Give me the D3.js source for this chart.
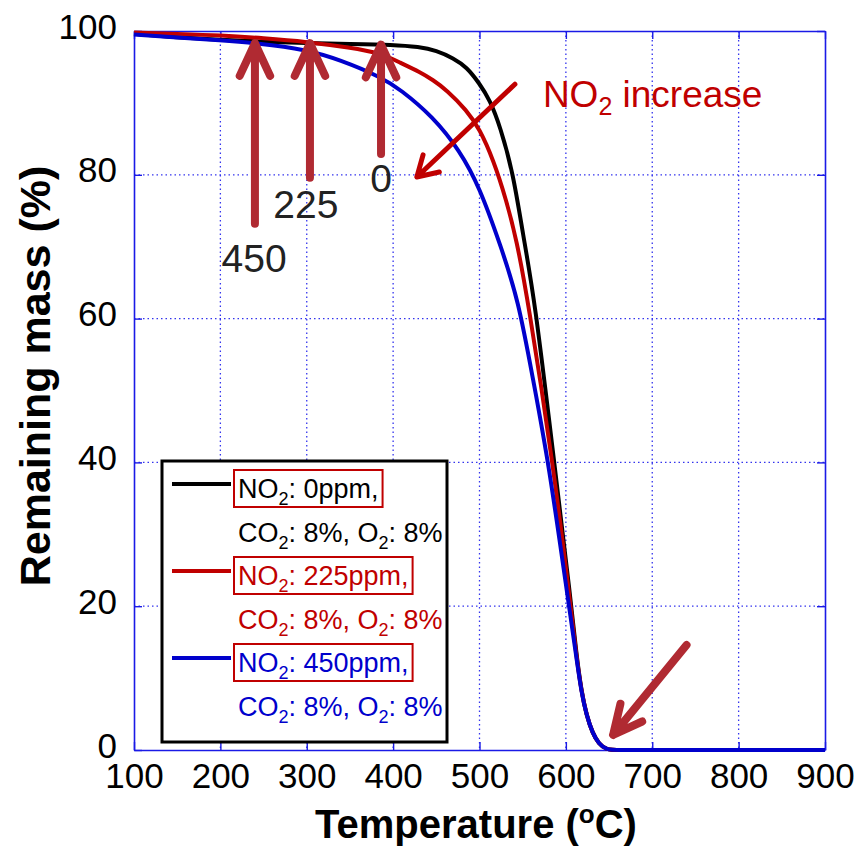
<!DOCTYPE html>
<html>
<head>
<meta charset="utf-8">
<script src="https://cdn.jsdelivr.net/npm/d3@7"></script>
<style>
  body { margin: 0; background: #fff; }
  text { font-family: Arial, "Liberation Sans", sans-serif; }
</style>
</head>
<body>
<div id="chart"></div>
<script>
// values (temperature in C, remaining mass in %)
const tempBlack = [100, 150, 200, 250, 300, 350, 400, 430, 450, 470, 485, 500, 512, 524, 539, 550, 564, 585, 606, 612, 618, 624, 631, 638, 647, 660, 700, 800, 900];
const massBlack = [99.6, 99.1, 98.8, 98.5, 98.3, 98.2, 98.1, 97.8, 97.3, 96.2, 95.0, 92.7, 90.4, 86.7, 80.2, 71.9, 62.6, 41.5, 20.5, 13.5, 8.2, 4.8, 2.3, 0.9, 0, 0, 0, 0, 0];

const tempRed = [100, 150, 200, 250, 300, 350, 386, 408, 431, 446, 462, 485, 500, 516, 531, 543, 556, 585, 605, 612, 618, 624, 631, 638, 647, 660, 700, 800, 900];
const massRed = [99.8, 99.6, 99.4, 99.0, 98.5, 97.7, 96.9, 95.6, 94.3, 93.2, 91.8, 89.0, 86.4, 82.1, 76.5, 70.9, 62.6, 40, 20.5, 13.2, 8.1, 4.8, 2.3, 0.9, 0, 0, 0, 0, 0];

const tempBlue = [100, 150, 200, 242, 300, 338, 386, 408, 446, 477, 500, 524, 545, 562, 580, 603, 612, 618, 624, 631, 638, 647, 660, 700, 800, 900];
const massBlue = [99.5, 99.1, 98.7, 98.3, 97.4, 96.0, 93.6, 91.9, 88.1, 83.4, 78.3, 70.3, 62.6, 51.5, 40, 20.5, 13.0, 8.0, 4.8, 2.3, 0.9, 0, 0, 0, 0, 0];

const xTicks = [100, 200, 300, 400, 500, 600, 700, 800, 900];
const yTicks = [0, 20, 40, 60, 80, 100];

const seriesNames = ["0ppm", "225ppm", "450ppm"];
const seriesColors = ["#000000", "#c00000", "#0000cc"];

// annotation arrows: [temp, mass] tail -> tip
const ppmArrows = [
  { label: "450", tail: [240, 73.2], tip: [240, 98.3], text: [239, 66.5] },
  { label: "225", tail: [303.7, 79.6], tip: [303.7, 98.3], text: [299, 74] },
  { label: "0", tail: [386, 82.9], tip: [386, 98.1], text: [386, 77.6] }
];
const increaseArrow = { tail: [541, 92.6], tip: [427.5, 79.7], text: [573.4, 89.4] };
const endArrow = { tail: [739.7, 14.6], tip: [654.7, 2.1] };

const W = 858, H = 850;
const margin = { top: 31, right: 33, bottom: 100, left: 134 };
const width = W - margin.left - margin.right;
const height = H - margin.top - margin.bottom;

const svg = d3.select("#chart").append("svg")
  .attr("width", W)
  .attr("height", H);

const g = svg.append("g")
  .attr("transform", `translate(${margin.left},${margin.top})`);

const x = d3.scaleLinear().domain([100, 900]).range([0, width]);
const y = d3.scaleLinear().domain([0, 100]).range([height, 0]);

const axisBlue = "#1a1ae6";

// dotted grid
g.append("g").selectAll("line")
  .data(xTicks.slice(1, -1))
  .join("line")
  .attr("x1", d => x(d)).attr("x2", d => x(d))
  .attr("y1", 0).attr("y2", height)
  .attr("stroke", "#3434ee").attr("stroke-width", 1.3)
  .attr("stroke-dasharray", "1.5,3");
g.append("g").selectAll("line")
  .data(yTicks.slice(1, -1))
  .join("line")
  .attr("y1", d => y(d)).attr("y2", d => y(d))
  .attr("x1", 0).attr("x2", width)
  .attr("stroke", "#3434ee").attr("stroke-width", 1.3)
  .attr("stroke-dasharray", "1.5,3");

// axes with inward ticks
const styleAxis = function (sel) {
  sel.select(".domain").attr("stroke", axisBlue).attr("stroke-width", 1.6);
  sel.selectAll(".tick line").attr("stroke", axisBlue).attr("stroke-width", 1.4);
  sel.selectAll(".tick text").attr("fill", "#000").attr("font-size", 35);
  sel.attr("font-family", null);
};

g.append("g")
  .attr("transform", `translate(0,${height})`)
  .call(d3.axisBottom(x).tickValues(xTicks).tickSize(-8).tickPadding(13).tickSizeOuter(0))
  .call(styleAxis);
g.append("g")
  .call(d3.axisTop(x).tickValues(xTicks).tickSize(-8).tickFormat("").tickSizeOuter(0))
  .call(styleAxis);
g.append("g")
  .call(d3.axisLeft(y).tickValues(yTicks).tickSize(-8).tickPadding(17).tickSizeOuter(0))
  .call(styleAxis)
  .selectAll(".tick text").attr("dy", "0.2em");
g.append("g")
  .attr("transform", `translate(${width},0)`)
  .call(d3.axisRight(y).tickValues(yTicks).tickSize(-8).tickFormat("").tickSizeOuter(0))
  .call(styleAxis);

// curves
const series = [
  { t: tempBlack, m: massBlack },
  { t: tempRed, m: massRed },
  { t: tempBlue, m: massBlue }
];
const line = d3.line()
  .x(d => x(d[0]))
  .y(d => y(d[1]))
  .curve(d3.curveBasis);

series.forEach(function (s, i) {
  g.append("path")
    .datum(s.t.map((t, j) => [t, s.m[j]]))
    .attr("fill", "none")
    .attr("stroke", seriesColors[i])
    .attr("stroke-width", 4)
    .attr("d", line);
});

// arrow helper (pixel coords from data)
const drawArrow = function (a, color, sw, wing, angle) {
  const x0 = x(a.tail[0]), y0 = y(a.tail[1]);
  const x1 = x(a.tip[0]), y1 = y(a.tip[1]);
  const ang = Math.atan2(y0 - y1, x0 - x1);
  const r = angle * Math.PI / 180;
  const w1 = [x1 + wing * Math.cos(ang + r), y1 + wing * Math.sin(ang + r)];
  const w2 = [x1 + wing * Math.cos(ang - r), y1 + wing * Math.sin(ang - r)];
  g.append("path")
    .attr("d", `M${x0},${y0}L${x1},${y1}M${w1[0]},${w1[1]}L${x1},${y1}L${w2[0]},${w2[1]}`)
    .attr("fill", "none")
    .attr("stroke", color)
    .attr("stroke-width", sw)
    .attr("stroke-linecap", "round")
    .attr("stroke-linejoin", "round");
};

const darkRed = "#b02a32";
ppmArrows.forEach(function (a) {
  drawArrow(a, darkRed, 8, 36, 25);
  g.append("text")
    .attr("x", x(a.text[0]))
    .attr("y", y(a.text[1]))
    .attr("text-anchor", "middle")
    .attr("font-size", 39)
    .attr("fill", "#222")
    .text(a.label);
});

drawArrow(increaseArrow, "#c00000", 5, 23, 31);
const inc = g.append("text")
  .attr("x", x(increaseArrow.text[0]))
  .attr("y", y(increaseArrow.text[1]))
  .attr("font-size", 37)
  .attr("fill", "#c00000");
inc.append("tspan").text("NO");
inc.append("tspan").attr("font-size", 25).attr("dy", 8).text("2");
inc.append("tspan").attr("dy", -8).text(" increase");

drawArrow(endArrow, darkRed, 8, 32, 26);

// legend
const legend = svg.append("g");
legend.append("rect")
  .attr("x", 162).attr("y", 461)
  .attr("width", 285).attr("height", 281)
  .attr("fill", "#fff")
  .attr("stroke", "#000")
  .attr("stroke-width", 3);

const rowGap = 87;
seriesNames.forEach(function (name, i) {
  const base = 498 + i * rowGap;
  const c = seriesColors[i];
  legend.append("line")
    .attr("x1", 172).attr("x2", 231)
    .attr("y1", base - 14).attr("y2", base - 14)
    .attr("stroke", c).attr("stroke-width", 4);

  const t1 = legend.append("text")
    .attr("x", 238).attr("y", base)
    .attr("font-size", 27).attr("fill", c);
  t1.append("tspan").text("NO");
  t1.append("tspan").attr("font-size", 18).attr("dy", 7).text("2");
  t1.append("tspan").attr("dy", -7).text(": " + name + ",");

  const bb = t1.node().getBBox();
  legend.append("rect")
    .attr("x", bb.x - 4).attr("y", base - 28)
    .attr("width", bb.width + 8).attr("height", 37)
    .attr("fill", "none")
    .attr("stroke", "#c00000")
    .attr("stroke-width", 2);

  const t2 = legend.append("text")
    .attr("x", 238).attr("y", base + 44)
    .attr("font-size", 27).attr("fill", c);
  t2.append("tspan").text("CO");
  t2.append("tspan").attr("font-size", 18).attr("dy", 7).text("2");
  t2.append("tspan").attr("dy", -7).text(": 8%, O");
  t2.append("tspan").attr("font-size", 18).attr("dy", 7).text("2");
  t2.append("tspan").attr("dy", -7).text(": 8%");
});

// axis titles
const xt = svg.append("text")
  .attr("x", 476).attr("y", 838)
  .attr("text-anchor", "middle")
  .attr("font-size", 40)
  .attr("font-weight", "bold");
xt.append("tspan").text("Temperature (");
xt.append("tspan").attr("font-size", 26).attr("dy", -15).text("o");
xt.append("tspan").attr("dy", 15).text("C)");

svg.append("text")
  .attr("transform", "translate(50,376) rotate(-90)")
  .attr("text-anchor", "middle")
  .attr("font-size", 43)
  .attr("font-weight", "bold")
  .text("Remaining mass (%)");
</script>
</body>
</html>
